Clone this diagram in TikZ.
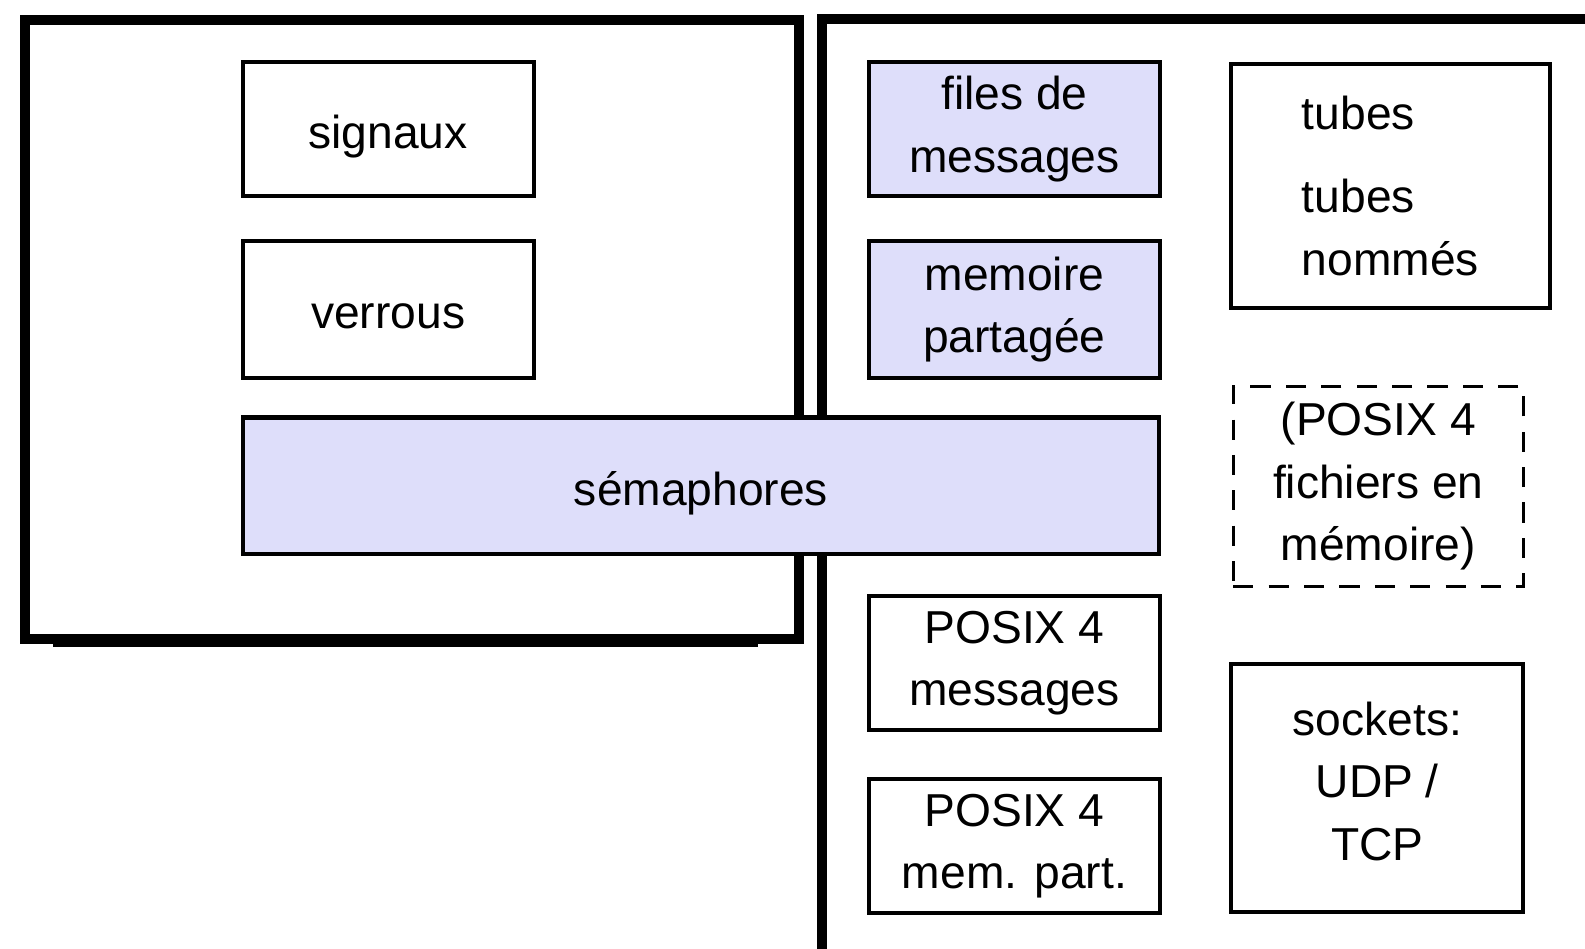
\documentclass[tikz,border=0pt]{standalone}
\usepackage{fontspec}
\setmainfont{Liberation Sans}
\usetikzlibrary{positioning}

\definecolor{ipcfill}{RGB}{222,222,250}

\begin{document}
\begin{tikzpicture}[
        node distance=0.41cm,
        font=\fontsize{13}{17.6}\selectfont,
        box/.style={rectangle, draw, line width=0.4mm, text centered, align=center, minimum width=2.88cm, minimum height=1.32cm, inner sep=0pt},
        shared/.style={box, fill=ipcfill},
        lowtext/.style={text height=14pt, text depth=3pt},
        container/.style={draw, line width=1mm}
    ]
        \useasboundingbox (0,0) rectangle (15.68,-9.38);

        % Containers
        \draw [container] (0.25,-0.20) rectangle (7.90,-6.32);
        \draw [line width=0.8mm] (0.52,-6.36) -- (7.50,-6.36);
        \draw [container] (8.13,-9.60) -- (8.13,-0.19) -- (16.00,-0.19);

        % Left column
        \node [box, lowtext] (signaux) at (3.84,-1.275) {signaux};
        \node [box, lowtext, below=of signaux, minimum height=1.35cm] (verrous) {verrous};
        \node [shared, lowtext, minimum width=9.07cm, minimum height=1.35cm] (semaphores) at (6.935,-4.805) {sémaphores};

        % Middle column
        \node [shared] (files) at (10.035,-1.275) {files de\\messages};
        \node [shared, below=of files, minimum height=1.35cm] (memoire) {memoire\\partagée};
        \node [box] (pxmsg) at (10.035,-6.56) {POSIX 4\\messages};
        \node [box, below=0.45cm of pxmsg] (pxmem) {POSIX 4\\mem. part.};

        % Right column
        \node [box, minimum width=3.15cm, minimum height=2.42cm, align=left] (tubes) at (13.755,-1.84) {tubes\\[0.2cm]tubes\\nommés};
        \node [box, dash pattern=on 2mm off 1.5mm, line width=0.3mm, minimum width=2.87cm, minimum height=1.98cm] (pxfich) at (13.635,-4.81) {(POSIX 4\\fichiers en\\mémoire)};
        \node [box, text depth=0.14cm, minimum width=2.89cm, minimum height=2.45cm] (sockets) at (13.625,-7.795) {sockets:\\UDP /\\TCP};

\end{tikzpicture}
\end{document}
